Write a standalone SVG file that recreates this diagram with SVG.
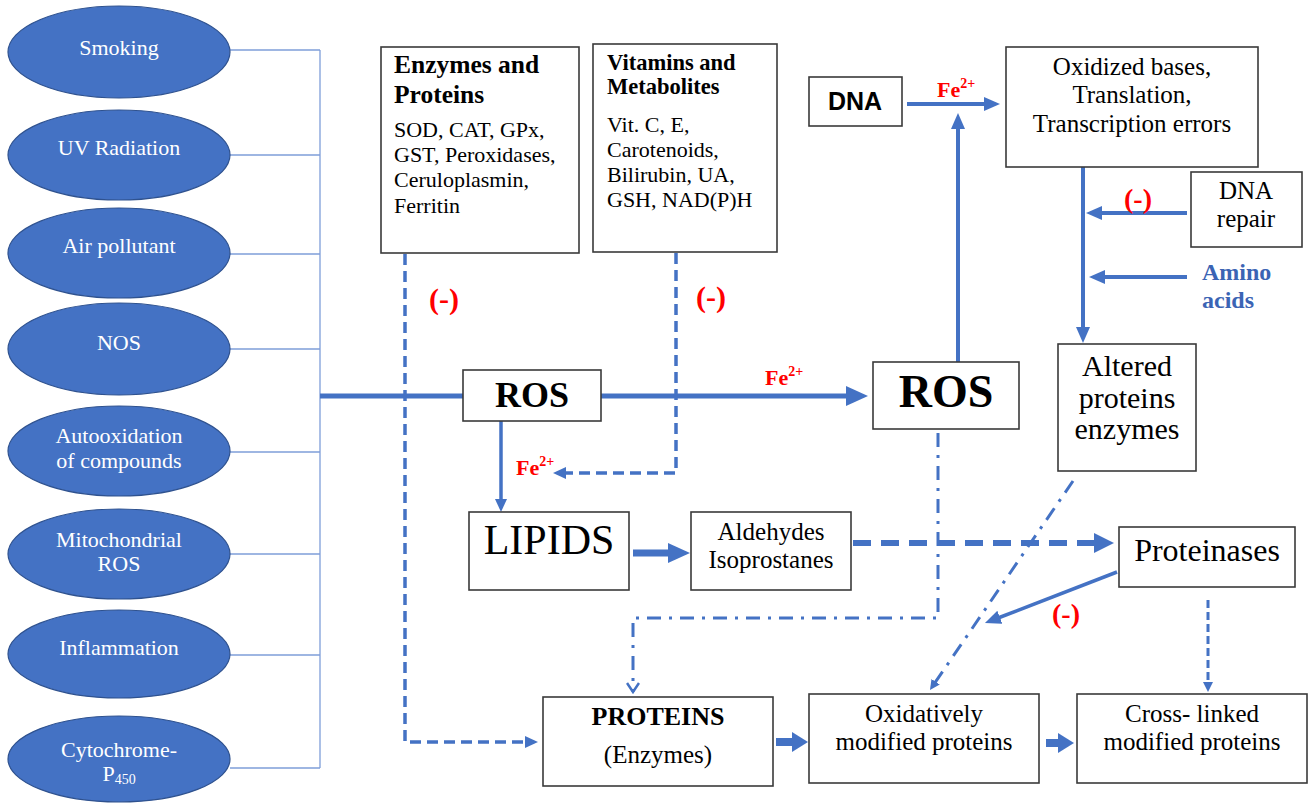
<svg xmlns="http://www.w3.org/2000/svg" width="1309" height="804" viewBox="0 0 1309 804" font-family="'Liberation Serif', 'Times New Roman', Times, 'DejaVu Serif', serif">
<style>
.ell{fill:#4472C4;stroke:#2F528F;stroke-width:1.2}
.et{font-size:22px;fill:#fff;text-anchor:middle}
.box{fill:#fff;stroke:#3a3a3a;stroke-width:1.6}
.s{fill:#000}
.c{text-anchor:middle}
.b{font-weight:bold}
.red{fill:#f00;font-weight:bold}
.thin{stroke:#7F9ED9;stroke-width:1.3;fill:none}
.ln{stroke:#4472C4;fill:none}
.dash{stroke-dasharray:11 6}
.dd{stroke-dasharray:14 8 3 8}
.blue{fill:#3B64B4;font-weight:bold}
</style>
<defs>
<marker id="aL" markerUnits="userSpaceOnUse" markerWidth="22" markerHeight="20" refX="2" refY="10" orient="auto"><path d="M0,0 L22,10 L0,20 z" fill="#4472C4"/></marker>
<marker id="a" markerUnits="userSpaceOnUse" markerWidth="16" markerHeight="14" refX="2" refY="7" orient="auto"><path d="M0,0 L16,7 L0,14 z" fill="#4472C4"/></marker>
<marker id="aS" markerUnits="userSpaceOnUse" markerWidth="13" markerHeight="12" refX="2" refY="6" orient="auto"><path d="M0,0 L13,6 L0,12 z" fill="#4472C4"/></marker>
<marker id="aXS" markerUnits="userSpaceOnUse" markerWidth="10" markerHeight="10" refX="2" refY="5" orient="auto"><path d="M0,0 L10,5 L0,10 z" fill="#4472C4"/></marker>
<marker id="aL2" markerUnits="userSpaceOnUse" markerWidth="20" markerHeight="20" refX="2" refY="10" orient="auto"><path d="M0,0 L20,10 L0,20 z" fill="#4472C4"/></marker>
<marker id="aB" markerUnits="userSpaceOnUse" markerWidth="22" markerHeight="20" refX="2" refY="10" orient="auto"><path d="M0,0 L22,10 L0,20 z" fill="#4472C4"/></marker>
<marker id="aB2" markerUnits="userSpaceOnUse" markerWidth="16" markerHeight="20" refX="2" refY="10" orient="auto"><path d="M0,0 L16,10 L0,20 z" fill="#4472C4"/></marker>
<marker id="chev" markerUnits="userSpaceOnUse" markerWidth="12" markerHeight="14" refX="10" refY="7" orient="auto"><path d="M1,1 L10,7 L1,13" fill="none" stroke="#4472C4" stroke-width="2.5"/></marker>
</defs>

<g id="connectors">
  <path class="thin" d="M230,50 H320 M230,155 H320 M230,254 H320 M230,349 H320 M230,452 H320 M230,554 H320 M230,655 H320 M230,768 H320 M320,50 V768"/>
  <line class="ln" x1="320" y1="396" x2="463" y2="396" stroke-width="5"/>
  <line class="ln" x1="601" y1="396" x2="848" y2="396" stroke-width="5" marker-end="url(#aL)"/>
  <line class="ln" x1="501" y1="421" x2="501" y2="501" stroke-width="3.5" marker-end="url(#aS)"/>
  <path class="ln dash" d="M676,253 V473 H564" stroke-width="3.5" marker-end="url(#aS)"/>
  <path class="ln dash" d="M405,254 V742 H527" stroke-width="3.5" marker-end="url(#aS)"/>
  <line class="ln" x1="958" y1="362" x2="958" y2="127" stroke-width="4" marker-end="url(#a)"/>
  <line class="ln" x1="907" y1="104" x2="986" y2="104" stroke-width="4" marker-end="url(#a)"/>
  <line class="ln" x1="1083" y1="167" x2="1083" y2="329" stroke-width="4" marker-end="url(#a)"/>
  <line class="ln" x1="1187" y1="213" x2="1100" y2="213" stroke-width="4" marker-end="url(#a)"/>
  <line class="ln" x1="1187" y1="277" x2="1103" y2="277" stroke-width="4" marker-end="url(#a)"/>
  <line class="ln" x1="633" y1="553" x2="670" y2="553" stroke-width="7" marker-end="url(#aB)"/>
  <line class="ln" x1="853" y1="543" x2="1096" y2="543" stroke-width="6" stroke-dasharray="18 10" marker-end="url(#aL2)"/>
  <path class="ln dd" d="M938,433 V618 H633 V692" stroke-width="3" marker-end="url(#chev)"/>
  <line class="ln dd" x1="1073" y1="481" x2="934.5" y2="683.4" stroke-width="3" marker-end="url(#aXS)"/>
  <line class="ln" x1="1117" y1="572" x2="998" y2="618" stroke-width="3.5" marker-end="url(#a)"/>
  <line class="ln" x1="1208" y1="600" x2="1208" y2="684" stroke-width="3" stroke-dasharray="8 4" marker-end="url(#aXS)"/>
  <line class="ln" x1="776" y1="742" x2="794" y2="742" stroke-width="8" marker-end="url(#aB2)"/>
  <line class="ln" x1="1046" y1="743" x2="1060" y2="743" stroke-width="8" marker-end="url(#aB2)"/>
</g>

<g id="src-smoking"><ellipse class="ell" cx="119" cy="52" rx="111" ry="46"/><text class="et" x="119" y="55">Smoking</text></g>
<g id="src-uv"><ellipse class="ell" cx="119" cy="155" rx="111" ry="45"/><text class="et" x="119" y="155">UV Radiation</text></g>
<g id="src-air"><ellipse class="ell" cx="119" cy="253" rx="111" ry="45"/><text class="et" x="119" y="253">Air pollutant</text></g>
<g id="src-nos"><ellipse class="ell" cx="119" cy="349" rx="111" ry="46"/><text class="et" x="119" y="350">NOS</text></g>
<g id="src-autoox"><ellipse class="ell" cx="119" cy="451" rx="111" ry="45"/><text class="et" x="119" y="443">Autooxidation</text><text class="et" x="119" y="468">of compounds</text></g>
<g id="src-mito"><ellipse class="ell" cx="119" cy="554" rx="111" ry="45"/><text class="et" x="119" y="547">Mitochondrial</text><text class="et" x="119" y="571">ROS</text></g>
<g id="src-inflam"><ellipse class="ell" cx="119" cy="654" rx="111" ry="44"/><text class="et" x="119" y="655">Inflammation</text></g>
<g id="src-cyto"><ellipse class="ell" cx="119" cy="759" rx="111" ry="43"/><text class="et" x="119" y="757">Cytochrome-</text><text class="et" x="119" y="781">P<tspan font-size="14" dy="3">450</tspan></text></g>

<g id="enzymes">
  <rect class="box" x="381" y="47" width="198" height="206"/>
  <text class="s b" font-size="25.5" x="394" y="73">Enzymes and</text>
  <text class="s b" font-size="25.5" x="394" y="103">Proteins</text>
  <text class="s" font-size="22" x="394" y="137">SOD, CAT, GPx,</text>
  <text class="s" font-size="22" x="394" y="162">GST, Peroxidases,</text>
  <text class="s" font-size="22" x="394" y="187">Ceruloplasmin,</text>
  <text class="s" font-size="22" x="394" y="213">Ferritin</text>
</g>
<text class="red" font-size="30" x="444" y="309" text-anchor="middle">(-)</text>

<g id="vitamins">
  <rect class="box" x="593" y="44" width="184" height="208"/>
  <text class="s b" font-size="22.5" x="607" y="70">Vitamins and</text>
  <text class="s b" font-size="22.5" x="607" y="94">Metabolites</text>
  <text class="s" font-size="22" x="607" y="132">Vit. C, E,</text>
  <text class="s" font-size="22" x="607" y="157">Carotenoids,</text>
  <text class="s" font-size="22" x="607" y="182">Bilirubin, UA,</text>
  <text class="s" font-size="22" x="607" y="207">GSH, NAD(P)H</text>
</g>
<text class="red" font-size="30" x="711" y="307" text-anchor="middle">(-)</text>

<g id="dna">
  <rect class="box" x="809" y="77" width="93" height="49"/>
  <text x="855" y="110" text-anchor="middle" font-family="'Liberation Sans', Arial, sans-serif" font-weight="bold" font-size="25">DNA</text>
</g>
<text class="red" font-size="22" x="937" y="97">Fe<tspan font-size="14" dy="-9">2+</tspan></text>

<g id="oxidized">
  <rect class="box" x="1006" y="47" width="252" height="120"/>
  <text class="s c" font-size="25" x="1132" y="75">Oxidized bases,</text>
  <text class="s c" font-size="25" x="1132" y="103">Translation,</text>
  <text class="s c" font-size="25" x="1132" y="132">Transcription errors</text>
</g>

<g id="dna-repair">
  <rect class="box" x="1191" y="172" width="111" height="75"/>
  <text class="s c" font-size="25" x="1246" y="199">DNA</text>
  <text class="s c" font-size="25" x="1246" y="227">repair</text>
</g>
<text class="red" font-size="28" x="1138" y="208" text-anchor="middle">(-)</text>

<g id="amino-acids">
  <text class="blue" font-size="24" x="1202" y="280">Amino</text>
  <text class="blue" font-size="24" x="1202" y="308">acids</text>
</g>

<g id="ros1">
  <rect class="box" x="463" y="370" width="138" height="51"/>
  <text class="s c b" font-size="36" x="532" y="407">ROS</text>
</g>
<text class="red" font-size="22" x="765" y="385">Fe<tspan font-size="14" dy="-9">2+</tspan></text>
<text class="red" font-size="22" x="516" y="475">Fe<tspan font-size="14" dy="-9">2+</tspan></text>

<g id="ros2">
  <rect class="box" x="873" y="362" width="146" height="67"/>
  <text class="s c b" font-size="46" x="946" y="407">ROS</text>
</g>

<g id="altered">
  <rect class="box" x="1058" y="344" width="138" height="127"/>
  <text class="s c" font-size="30" x="1127" y="376">Altered</text>
  <text class="s c" font-size="30" x="1127" y="408">proteins</text>
  <text class="s c" font-size="30" x="1127" y="439">enzymes</text>
</g>

<g id="lipids">
  <rect class="box" x="469" y="512" width="160" height="78"/>
  <text class="s c" font-size="42" x="549" y="554">LIPIDS</text>
</g>

<g id="aldehydes">
  <rect class="box" x="691" y="512" width="160" height="78"/>
  <text class="s c" font-size="25" x="771" y="540">Aldehydes</text>
  <text class="s c" font-size="25" x="771" y="568">Isoprostanes</text>
</g>

<g id="proteinases">
  <rect class="box" x="1119" y="527" width="176" height="60"/>
  <text class="s c" font-size="32" x="1207" y="561">Proteinases</text>
</g>
<text class="red" font-size="28" x="1066" y="623" text-anchor="middle">(-)</text>

<g id="proteins">
  <rect class="box" x="543" y="697" width="230" height="89"/>
  <text class="s c b" font-size="26" x="658" y="725">PROTEINS</text>
  <text class="s c" font-size="25" x="658" y="763">(Enzymes)</text>
</g>

<g id="oxidatively">
  <rect class="box" x="809" y="694" width="230" height="89"/>
  <text class="s c" font-size="25" x="924" y="722">Oxidatively</text>
  <text class="s c" font-size="25" x="924" y="750">modified proteins</text>
</g>

<g id="cross-linked">
  <rect class="box" x="1077" y="694" width="230" height="89"/>
  <text class="s c" font-size="25" x="1192" y="722">Cross- linked</text>
  <text class="s c" font-size="25" x="1192" y="750">modified proteins</text>
</g>
</svg>
